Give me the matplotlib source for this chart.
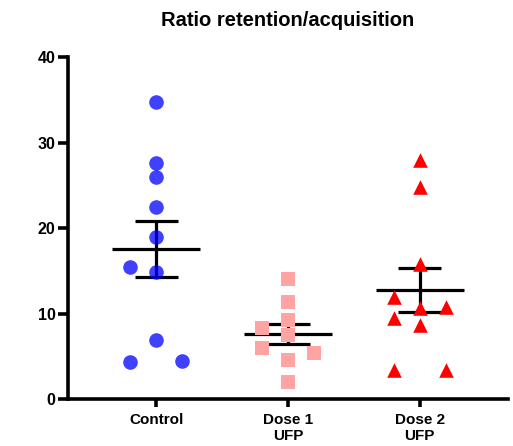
import numpy as np
import matplotlib.pyplot as plt

# values
groups = ["Control", "Dose 1\nUFP", "Dose 2\nUFP"]
control = [34.7, 27.6, 26.0, 22.5, 18.9, 15.5, 14.8, 6.9, 4.3, 4.4]
dose1 = [14.07, 11.4, 9.24, 7.5, 8.3, 5.96, 5.38, 4.56, 2.02]
dose2 = [27.95, 24.8, 15.8, 11.9, 10.7, 10.8, 9.5, 8.7, 3.43, 3.43]

# column of each point in the scatter (-1 left, 0 centre, 1 right)
control_col = [0, 0, 0, 0, 0, -1, 0, 0, -1, 1]
dose1_col = [0, 0, 0, 0, -1, -1, 1, 0, 0]
dose2_col = [0, 0, 0, -1, 0, 1, -1, 0, -1, 1]

plt.rcParams['font.family'] = ['Liberation Sans', 'DejaVu Sans']
plt.rcParams['font.weight'] = 'bold'

fig = plt.figure(figsize=(5.13, 4.46), dpi=100)
ax = fig.add_axes([0.1326, 0.1054, 0.8574, 0.7666])

styles = [
    dict(marker='o', color='#0000FF', alpha=0.75),
    dict(marker='s', color='#FFA3A3', alpha=1.0),
    dict(marker='^', color='#FF0000', alpha=1.0),
]
spread = 0.198
lw = 2.3
axlw = 2.6

for i, (vals, cols, st) in enumerate(zip([control, dose1, dose2],
                                         [control_col, dose1_col, dose2_col],
                                         styles)):
    vals = np.array(vals)
    x = i + spread * np.array(cols)
    ax.scatter(x, vals, s=10.5 ** 2, marker=st['marker'], color=st['color'],
               alpha=st['alpha'], linewidths=0, zorder=3)
    m = vals.mean()
    sem = vals.std(ddof=1) / np.sqrt(len(vals))
    ax.hlines(m, i - 0.335, i + 0.335, color='black', lw=lw, zorder=2)
    ax.hlines([m - sem, m + sem], i - 0.165, i + 0.165, color='black', lw=lw, zorder=2)
    ax.vlines(i, m - sem, m + sem, color='black', lw=lw, zorder=2)

ax.set_xlim(-0.67, 2.67)
ax.set_ylim(0, 40)
ax.set_yticks([0, 10, 20, 30, 40])
ax.set_xticks(range(len(groups)))
ax.set_xticklabels(groups, fontsize=11, fontweight='bold', linespacing=1.2)
ax.tick_params(axis='y', length=7, width=axlw, labelsize=11.5, pad=2)
ax.tick_params(axis='x', length=6, width=axlw, pad=4)
for lab in ax.get_yticklabels():
    lab.set_fontweight('bold')

for s in ['top', 'right']:
    ax.spines[s].set_visible(False)
for s in ['left', 'bottom']:
    ax.spines[s].set_linewidth(axlw)
ax.spines['left'].set_capstyle('projecting')

fig.suptitle("Ratio retention/acquisition", x=0.56, y=0.976, fontsize=14.5, fontweight='bold')

fig.savefig("out.png", dpi=100)
